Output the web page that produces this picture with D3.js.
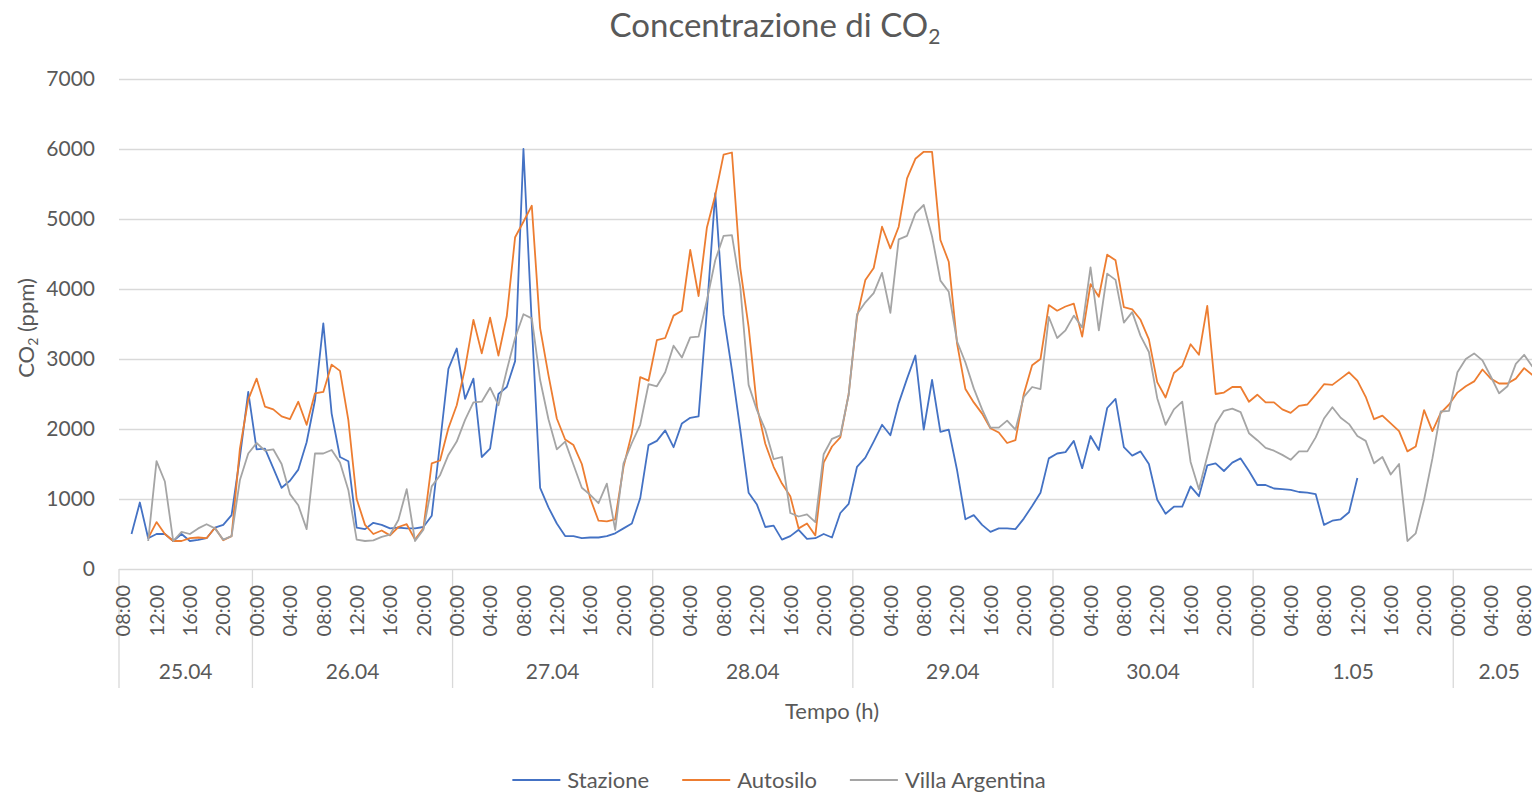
<!DOCTYPE html>
<html>
<head>
<meta charset="utf-8">
<script src="https://cdn.jsdelivr.net/npm/d3@7"></script>
<style>
  body { margin: 0; background: #fff; }
  svg { display: block; font-family: Lato, "Open Sans", sans-serif; }
</style>
</head>
<body>
<svg id="chart" width="1532" height="794"></svg>
<script>
// categories: one per hour, grouped by day
const dayLabels = ["25.04", "26.04", "27.04", "28.04", "29.04", "30.04", "1.05", "2.05"];
const dayHours = [16, 24, 24, 24, 24, 24, 24, 11];
const startHour = 8;
const hourTicks = ["00:00", "04:00", "08:00", "12:00", "16:00", "20:00"];
const yTicks = [0, 1000, 2000, 3000, 4000, 5000, 6000, 7000];

const seriesNames = ["Stazione", "Autosilo", "Villa Argentina"];
const seriesColors = ["#4472C4", "#ED7D31", "#A5A5A5"];

const stazione = [null,
  500, 950, 440, 500, 500, 400, 500, 400, 415, 440,
  590, 630, 770, 1600, 2530, 1710, 1720, 1440, 1160, 1260,
  1420, 1810, 2410, 3510, 2220, 1600, 1540, 590, 570, 660,
  630, 580, 590, 580, 580, 600, 760, 1800, 2860, 3150,
  2430, 2720, 1600, 1720, 2500, 2600, 2970, 6000, 3500, 1160,
  880, 650, 470, 470, 440, 450, 450, 470, 510, 580,
  650, 1010, 1770, 1830, 1980, 1740, 2080, 2160, 2180, 3700,
  5370, 3630, 2840, 1990, 1090, 920, 600, 620, 420, 470,
  560, 430, 440, 500, 450, 800, 930, 1460, 1590, 1820,
  2060, 1910, 2370, 2720, 3050, 1990, 2700, 1960, 1990, 1410,
  710, 770, 630, 530, 580, 580, 570, 720, 900, 1090,
  1580, 1650, 1670, 1830, 1440, 1900, 1700, 2300, 2430, 1740,
  1620, 1680, 1500, 990, 790, 890, 890, 1180, 1040, 1480,
  1510, 1400, 1520, 1580, 1400, 1200, 1200, 1150, 1140, 1130,
  1100, 1090, 1070, 630, 690, 710, 810, 1300,
  null, null, null, null, null, null, null, null, null, null, null,
  null, null, null, null, null, null, null, null, null, null, null];

const autosilo = [null, null, null,
  440, 670, 500, 400, 400, 440, 450, 440,
  590, 410, 470, 1720, 2420, 2720, 2320, 2280, 2180, 2140,
  2390, 2060, 2510, 2530, 2920, 2830, 2130, 1000, 630, 500,
  550, 480, 600, 640, 420, 580, 1510, 1550, 2010, 2340,
  2870, 3560, 3080, 3590, 3050, 3610, 4740, 4960, 5190, 3440,
  2770, 2150, 1850, 1770, 1500, 1010, 690, 680, 710, 1460,
  1940, 2740, 2690, 3270, 3300, 3620, 3690, 4560, 3900, 4880,
  5340, 5920, 5950, 4300, 3460, 2320, 1790, 1460, 1220, 1040,
  580, 650, 480, 1520, 1750, 1880, 2500, 3600, 4130, 4300,
  4890, 4580, 4890, 5580, 5860, 5960, 5960, 4700, 4390, 3220,
  2570, 2380, 2220, 2010, 1950, 1800, 1840, 2500, 2910, 3000,
  3770, 3690, 3750, 3790, 3320, 4070, 3890, 4490, 4410, 3740,
  3710, 3560, 3280, 2670, 2450, 2800, 2900, 3210, 3060, 3760,
  2500, 2520, 2600, 2600, 2390, 2490, 2380, 2380, 2280, 2230,
  2330, 2350, 2490, 2640, 2630, 2720, 2810, 2690, 2460, 2140,
  2190, 2080, 1970, 1680, 1750, 2270, 1970, 2230, 2350, 2520,
  2610, 2680, 2850, 2720, 2650, 2650, 2720, 2870, 2770,
  null];

const villa = [null, null, null,
  400, 1540, 1250, 400, 530, 500, 580, 640,
  580, 420, 470, 1270, 1650, 1800, 1690, 1710, 1500, 1070,
  910, 570, 1650, 1650, 1700, 1520, 1130, 420, 400, 410,
  460, 490, 700, 1140, 400, 560, 1180, 1340, 1630, 1820,
  2130, 2380, 2390, 2590, 2340, 2840, 3300, 3640, 3580, 2700,
  2140, 1710, 1820, 1490, 1160, 1060, 940, 1220, 560, 1510,
  1800, 2060, 2640, 2610, 2810, 3190, 3020, 3310, 3320, 3840,
  4410, 4760, 4770, 4030, 2630, 2270, 1990, 1570, 1600, 800,
  750, 780, 670, 1640, 1860, 1910, 2490, 3640, 3810, 3940,
  4230, 3660, 4710, 4760, 5080, 5200, 4750, 4120, 3960, 3250,
  2950, 2580, 2280, 2020, 2020, 2120, 1990, 2460, 2600, 2570,
  3600, 3300, 3410, 3620, 3450, 4310, 3410, 4220, 4130, 3520,
  3670, 3330, 3100, 2440, 2060, 2280, 2390, 1530, 1140, 1610,
  2070, 2260, 2290, 2240, 1940, 1840, 1730, 1690, 1630, 1560,
  1680, 1680, 1880, 2150, 2310, 2160, 2070, 1900, 1830, 1510,
  1600, 1350, 1500, 400, 510, 990, 1580, 2250, 2260, 2810,
  3000, 3080, 2980, 2750, 2510, 2610, 2930, 3060, 2890,
  null];

const series = [stazione, autosilo, villa];

// build the category list (hour label + day index)
let categories = [];
dayHours.forEach(function(n, d) {
  let h0 = d === 0 ? startHour : 0;
  for (let k = 0; k < n; k++) {
    let h = h0 + k;
    categories.push({ day: d, label: (h < 10 ? "0" : "") + h + ":00" });
  }
});

const textColor = "#595959";
const gridColor = "#D9D9D9";

let svg = d3.select("#chart");
svg.append("rect").attr("width", 1532).attr("height", 794).attr("fill", "#fff");

let plotLeft = 119, plotRight = 1545, plotTop = 79, plotBottom = 569;

let x = d3.scaleBand().domain(d3.range(categories.length)).range([plotLeft, plotRight]);
let y = d3.scaleLinear().domain([0, 7000]).range([plotBottom, plotTop]);
let cx = i => x(i) + x.bandwidth() / 2;

// y axis + gridlines
let yAxis = svg.append("g")
  .attr("transform", `translate(${plotLeft},0)`)
  .call(d3.axisLeft(y).tickValues(yTicks).tickFormat(d3.format("d"))
    .tickSize(-(plotRight - plotLeft)).tickPadding(24));
yAxis.select(".domain").remove();
yAxis.selectAll(".tick line").attr("stroke", gridColor).attr("stroke-width", 1.3);
yAxis.selectAll(".tick text")
  .attr("fill", textColor).style("font-size", "21px").style("font-family", "Lato, sans-serif");

// day separators
let dayStarts = [0];
dayHours.forEach((n, d) => dayStarts.push(dayStarts[d] + n));
svg.append("g").selectAll("line")
  .data(dayStarts.slice(0, -1))
  .enter().append("line")
  .attr("x1", d => x(d)).attr("x2", d => x(d))
  .attr("y1", plotBottom).attr("y2", 688)
  .attr("stroke", gridColor).attr("stroke-width", 1.3);

// hour tick labels
svg.append("g").selectAll("text")
  .data(categories.map((c, i) => ({ i: i, label: c.label })).filter(c => hourTicks.includes(c.label)))
  .enter().append("text")
  .attr("transform", d => `translate(${cx(d.i)},585) rotate(-90)`)
  .attr("text-anchor", "end")
  .attr("dy", "0.36em")
  .attr("fill", textColor)
  .style("font-size", "20px")
  .text(d => d.label);

// day labels
svg.append("g").selectAll("text")
  .data(dayLabels)
  .enter().append("text")
  .attr("x", (d, i) => (x(dayStarts[i]) + x(dayStarts[i + 1] - 1) + x.bandwidth()) / 2)
  .attr("y", 672)
  .attr("dy", "0.35em")
  .attr("text-anchor", "middle")
  .attr("fill", textColor)
  .style("font-size", "21px")
  .text(d => d);

// lines
let line = d3.line()
  .defined(d => d != null)
  .x((d, i) => cx(i))
  .y(d => y(d));

svg.append("g").selectAll("path")
  .data(series)
  .enter().append("path")
  .attr("d", line)
  .attr("fill", "none")
  .attr("stroke", (d, i) => seriesColors[i])
  .attr("stroke-width", 1.8)
  .attr("stroke-linejoin", "round");

// title
let title = svg.append("text")
  .attr("x", 775).attr("y", 37)
  .attr("text-anchor", "middle")
  .attr("fill", textColor)
  .style("font-size", "33px");
title.append("tspan").text("Concentrazione di CO");
title.append("tspan").attr("dy", 7).style("font-size", "21px").text("2");

// axis titles
let yTitle = svg.append("text")
  .attr("transform", "translate(34,328) rotate(-90)")
  .attr("text-anchor", "middle")
  .attr("fill", textColor)
  .style("font-size", "22px");
yTitle.append("tspan").text("CO");
yTitle.append("tspan").attr("dy", 4).style("font-size", "14px").text("2");
yTitle.append("tspan").attr("dy", -4).text(" (ppm)");

svg.append("text")
  .attr("x", 832).attr("y", 711)
  .attr("dy", "0.35em")
  .attr("text-anchor", "middle")
  .attr("fill", textColor)
  .style("font-size", "22px")
  .text("Tempo (h)");

// legend
let legend = svg.append("g");
let items = legend.selectAll("g")
  .data(seriesNames)
  .enter().append("g");
items.append("line")
  .attr("x1", 0).attr("x2", 48)
  .attr("stroke", (d, i) => seriesColors[i]).attr("stroke-width", 2);
items.append("text")
  .attr("x", 55).attr("dy", "0.35em")
  .attr("fill", textColor)
  .style("font-size", "22px")
  .text(d => d);
let offs = [], pos = 0;
items.each(function() {
  offs.push(pos);
  pos += 55 + this.querySelector("text").getComputedTextLength() + 33;
});
let total = pos - 33;
items.attr("transform", (d, i) => `translate(${779 - total / 2 + offs[i]},780)`);
</script>
</body>
</html>
